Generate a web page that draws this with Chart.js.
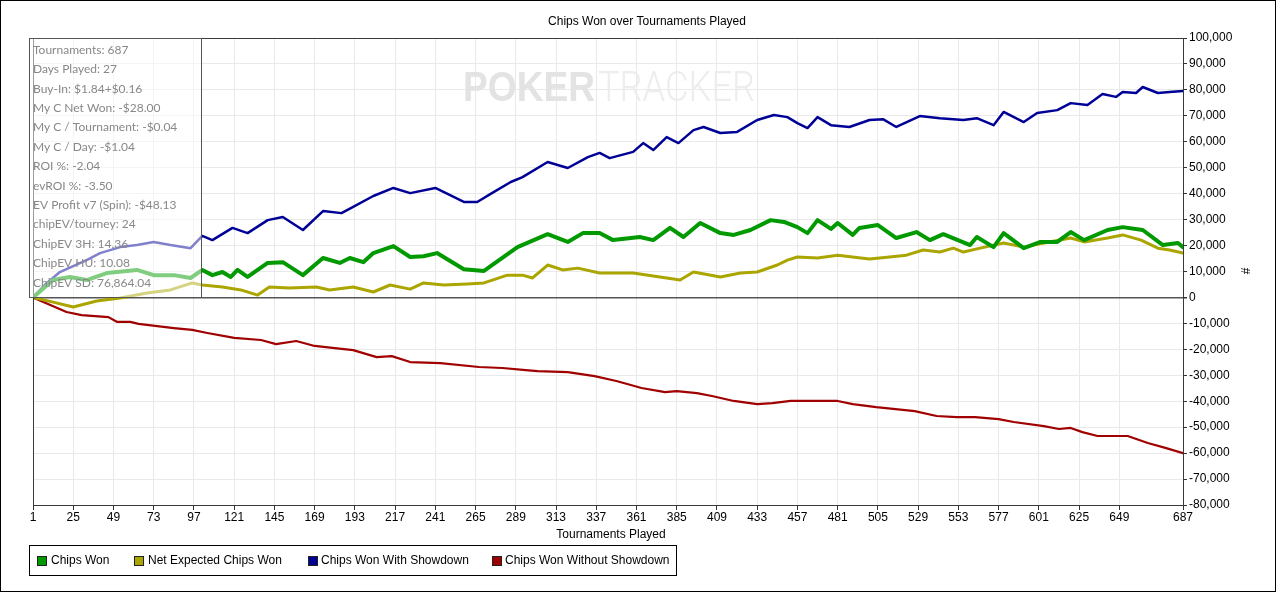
<!DOCTYPE html>
<html>
<head>
<meta charset="utf-8">
<title>Chips Won over Tournaments Played</title>
<script src="https://cdn.jsdelivr.net/npm/chart.js@4.4.1/dist/chart.umd.min.js"></script>
<style>
  html, body { margin: 0; padding: 0; background: #fff; }
  #wrap { position: relative; width: 1280px; height: 593px; }
</style>
</head>
<body>
<div id="wrap"><canvas id="chipsChart"></canvas></div>
<script>
// tournaments where the x ticks are labelled
const tickTournaments = [1, 25, 49, 73, 97, 121, 145, 169, 193, 217, 241, 265, 289, 313, 337, 361, 385, 409, 433, 457, 481, 505, 529, 553, 577, 601, 625, 649, 687];

// Chips Won (green)
const chipsWonT = [1,13,23,33,45,63,73,85,95,102,108,114,119,123,129,141,150,162,174,184,190,198,204,216,226,234,242,258,270,290,308,320,329,339,347,363,371,381,389,399,411,419,429,441,449,457,463,469,477,481,490,494,505,516,528,536,544,560,564,574,580,592,602,612,620,628,642,651,663,675,684,687];
const chipsWonV = [0,6700,7900,6700,9400,10600,8600,8600,7500,10600,8600,9800,7900,10600,7900,13300,13600,8600,15200,13300,15200,13600,17100,19800,15600,15900,17100,10900,10200,19400,24400,21400,24800,24800,22100,23300,22100,26800,23300,28700,24800,24100,26000,29800,29100,27100,24800,29800,26400,28700,24100,26800,27900,22900,25200,22100,24400,20200,23300,19400,24800,19000,21400,21400,25200,22100,26000,27100,26000,20200,21000,19400];

// Net Expected Chips Won (olive)
const netExpT = [1,13,25,39,53,69,83,96,102,114,125,135,142,154,170,178,192,204,214,226,234,246,260,270,284,293,299,308,317,326,339,359,379,387,395,411,423,433,445,451,457,469,481,500,512,522,532,542,550,556,566,580,592,604,620,628,642,651,662,672,679,687];
const netExpV = [0,-1800,-3700,-1400,-200,1700,2900,5600,4800,4000,2900,900,4000,3600,4000,2900,4000,2100,4800,3200,5600,4800,5200,5600,8600,8600,7500,12500,10600,11300,9400,9400,7500,6700,9800,7900,9400,9800,12500,14400,15600,15200,16300,14800,15600,16300,18300,17500,19000,17500,19000,21000,19400,21000,22900,21400,22900,24100,22100,19000,18300,17100];

// Chips Won With Showdown (blue)
const withSdT = [1,8,17,33,41,53,63,73,83,95,102,108,120,129,141,150,162,174,185,192,204,216,226,241,258,266,274,286,293,308,320,332,339,345,359,365,371,379,386,395,401,411,421,433,443,451,457,463,469,477,488,500,508,516,530,542,556,564,574,580,592,600,612,620,630,639,647,651,659,663,672,679,687];
const withSdV = [0,4800,9800,14400,17100,19400,20200,21400,20200,19000,23700,22100,26800,24800,29800,31000,26000,33300,32500,34900,39100,42200,40200,42200,36800,36800,39900,44500,46400,52200,49900,54100,55700,53700,56100,59500,56800,61800,59500,64500,65700,63400,63800,68400,70300,69500,67200,65300,69500,66400,65700,68400,68700,65700,69900,69100,68400,69100,66400,71500,67600,71100,72200,74900,74200,78400,77300,79200,78800,81100,78800,79200,79600];

// Chips Won Without Showdown (red)
const withoutSdT = [1,21,30,46,51,59,64,85,96,105,121,137,146,158,169,181,192,206,215,226,244,267,281,295,302,320,336,349,364,378,385,397,406,419,433,442,453,465,481,490,504,527,540,552,563,577,586,604,613,620,627,636,654,666,677,687];
const withoutSdV = [0,-5600,-6800,-7600,-9400,-9400,-10200,-11800,-12500,-13700,-15600,-16400,-18000,-16800,-18700,-19500,-20300,-23000,-22600,-24900,-25300,-26800,-27200,-28000,-28400,-28800,-30300,-32200,-34900,-36500,-36100,-36900,-38000,-39900,-41100,-40700,-39900,-39900,-39900,-41100,-42300,-43800,-45700,-46100,-46100,-46900,-48000,-49600,-50700,-50300,-51900,-53400,-53400,-56100,-58100,-60000];

const seriesNames = ['Chips Won', 'Net Expected Chips Won', 'Chips Won With Showdown', 'Chips Won Without Showdown'];
const seriesColors = ['#009a00', '#aba500', '#000096', '#a00000'];

const statLines = [
    'Tournaments: 687',
    'Days Played: 27',
    'Buy-In: $1.84+$0.16',
    'My C Net Won: -$28.00',
    'My C / Tournament: -$0.04',
    'My C / Day: -$1.04',
    'ROI %: -2.04',
    'evROI %: -3.50',
    'EV Profit v7 (Spin): -$48.13',
    'chipEV/tourney: 24',
    'ChipEV 3H: 14.36',
    'ChipEV HU: 10.08',
    'ChipEV SD: 76,864.04'
];

function toPoints(ts, vs) {
    return ts.map(function(t, i) { return { x: t, y: vs[i] }; });
}

const FONT = "'Liberation Sans', Arial, sans-serif";
Chart.defaults.font.family = FONT;
Chart.defaults.font.size = 12;
Chart.defaults.color = '#000';

// everything around the plot: title, box of stats, legend, watermark
const decor = {
    id: 'decor',
    beforeDraw(chart) {
        const c = chart.ctx;
        c.save();
        c.fillStyle = '#fff';
        c.fillRect(0, 0, chart.width, chart.height);
        c.restore();
    },
    beforeDatasetsDraw(chart) {
        const c = chart.ctx;
        c.save();
        c.textBaseline = 'alphabetic';
        c.textAlign = 'left';
        c.fillStyle = '#e3e3e3';
        c.font = 'bold 43px ' + FONT;
        c.fillText('POKER', 463, 101, 132);
        c.fillStyle = '#ededed';
        c.font = '300 43px Roboto, ' + FONT;
        c.fillText('TRACKER', 598, 101, 157);
        c.restore();
    },
    afterDatasetsDraw(chart) {
        const c = chart.ctx;
        const a = chart.chartArea;
        c.save();

        // frame of the plot
        c.strokeStyle = '#3a3a3a';
        c.lineWidth = 1;
        c.strokeRect(a.left + 0.5, a.top + 0.5, a.right - a.left, a.bottom - a.top);

        // stats box
        c.fillStyle = 'rgba(255,255,255,0.5)';
        c.fillRect(30, 38, 172, 259);
        c.strokeStyle = '#555';
        c.strokeRect(29.5, 38.5, 172, 259);
        c.fillStyle = '#888';
        c.font = '12px Lato, ' + FONT;
        c.textBaseline = 'middle';
        statLines.forEach(function(s, i) {
            c.fillText(s, 33, 50 + i * 19.4);
        });

        // title
        c.fillStyle = '#000';
        c.font = '12px ' + FONT;
        c.textAlign = 'center';
        c.fillText('Chips Won over Tournaments Played', 647, 21.5);

        // axis titles
        c.fillText('Tournaments Played', 611, 535);
        c.save();
        c.translate(1247, 271);
        c.rotate(-Math.PI / 2);
        c.fillText('#', 0, 0);
        c.restore();

        // legend
        c.strokeStyle = '#000';
        c.strokeRect(29.5, 545.5, 647, 30);
        const sq = [37, 134, 308, 492];
        const tx = [51, 148, 321, 505];
        c.textAlign = 'left';
        seriesNames.forEach(function(n, i) {
            c.fillStyle = seriesColors[i];
            c.fillRect(sq[i], 556, 9, 9);
            c.strokeStyle = '#222';
            c.strokeRect(sq[i] + 0.5, 556.5, 9, 9);
            c.fillStyle = '#000';
            c.fillText(n, tx[i], 560.5);
        });

        // outer frame
        c.strokeStyle = '#000';
        c.strokeRect(0.5, 0.5, 1275, 591);
        c.restore();
    }
};

const ctx = document.getElementById('chipsChart').getContext('2d');
const chipsChart = new Chart(ctx, {
    type: 'line',
    data: {
        datasets: [
            { label: seriesNames[0], data: toPoints(chipsWonT, chipsWonV), borderColor: seriesColors[0], borderWidth: 4 },
            { label: seriesNames[1], data: toPoints(netExpT, netExpV), borderColor: seriesColors[1], borderWidth: 3 },
            { label: seriesNames[2], data: toPoints(withSdT, withSdV), borderColor: seriesColors[2], borderWidth: 2.5 },
            { label: seriesNames[3], data: toPoints(withoutSdT, withoutSdV), borderColor: seriesColors[3], borderWidth: 2.2 }
        ]
    },
    options: {
        responsive: true,
        maintainAspectRatio: false,
        animation: false,
        elements: {
            point: { radius: 0 },
            line: { tension: 0, borderJoinStyle: 'round', borderCapStyle: 'round' }
        },
        layout: { padding: { left: 33, top: 38, right: 0, bottom: 0 } },
        plugins: {
            legend: { display: false },
            title: { display: false },
            tooltip: { enabled: false }
        },
        scales: {
            x: {
                type: 'linear',
                position: 'bottom',
                min: 1,
                max: 687,
                afterBuildTicks: function(scale) {
                    scale.ticks = tickTournaments.map(function(v) { return { value: v }; });
                },
                afterFit: function(scale) { scale.height = 88; },
                grid: { color: '#e9e9e9', tickColor: '#333', tickLength: 5, lineWidth: 1 },
                border: { display: true, color: '#333' },
                ticks: {
                    autoSkip: false,
                    maxRotation: 0,
                    padding: 0,
                    color: '#000',
                    font: { size: 12 },
                    callback: function(v) { return String(v); }
                }
            },
            y: {
                type: 'linear',
                position: 'right',
                min: -80000,
                max: 100000,
                afterFit: function(scale) { scale.width = 97; },
                grid: {
                    color: function(c) { return c.tick && c.tick.value === 0 ? '#555' : '#e9e9e9'; },
                    lineWidth: function(c) { return c.tick && c.tick.value === 0 ? 1.5 : 1; },
                    tickColor: '#333',
                    tickLength: 4
                },
                border: { display: true, color: '#333' },
                ticks: {
                    stepSize: 10000,
                    padding: 2,
                    color: '#000',
                    font: { size: 12 },
                    callback: function(v) { return v.toLocaleString('en-US'); }
                }
            }
        }
    },
    plugins: [decor]
});
</script>
</body>
</html>
